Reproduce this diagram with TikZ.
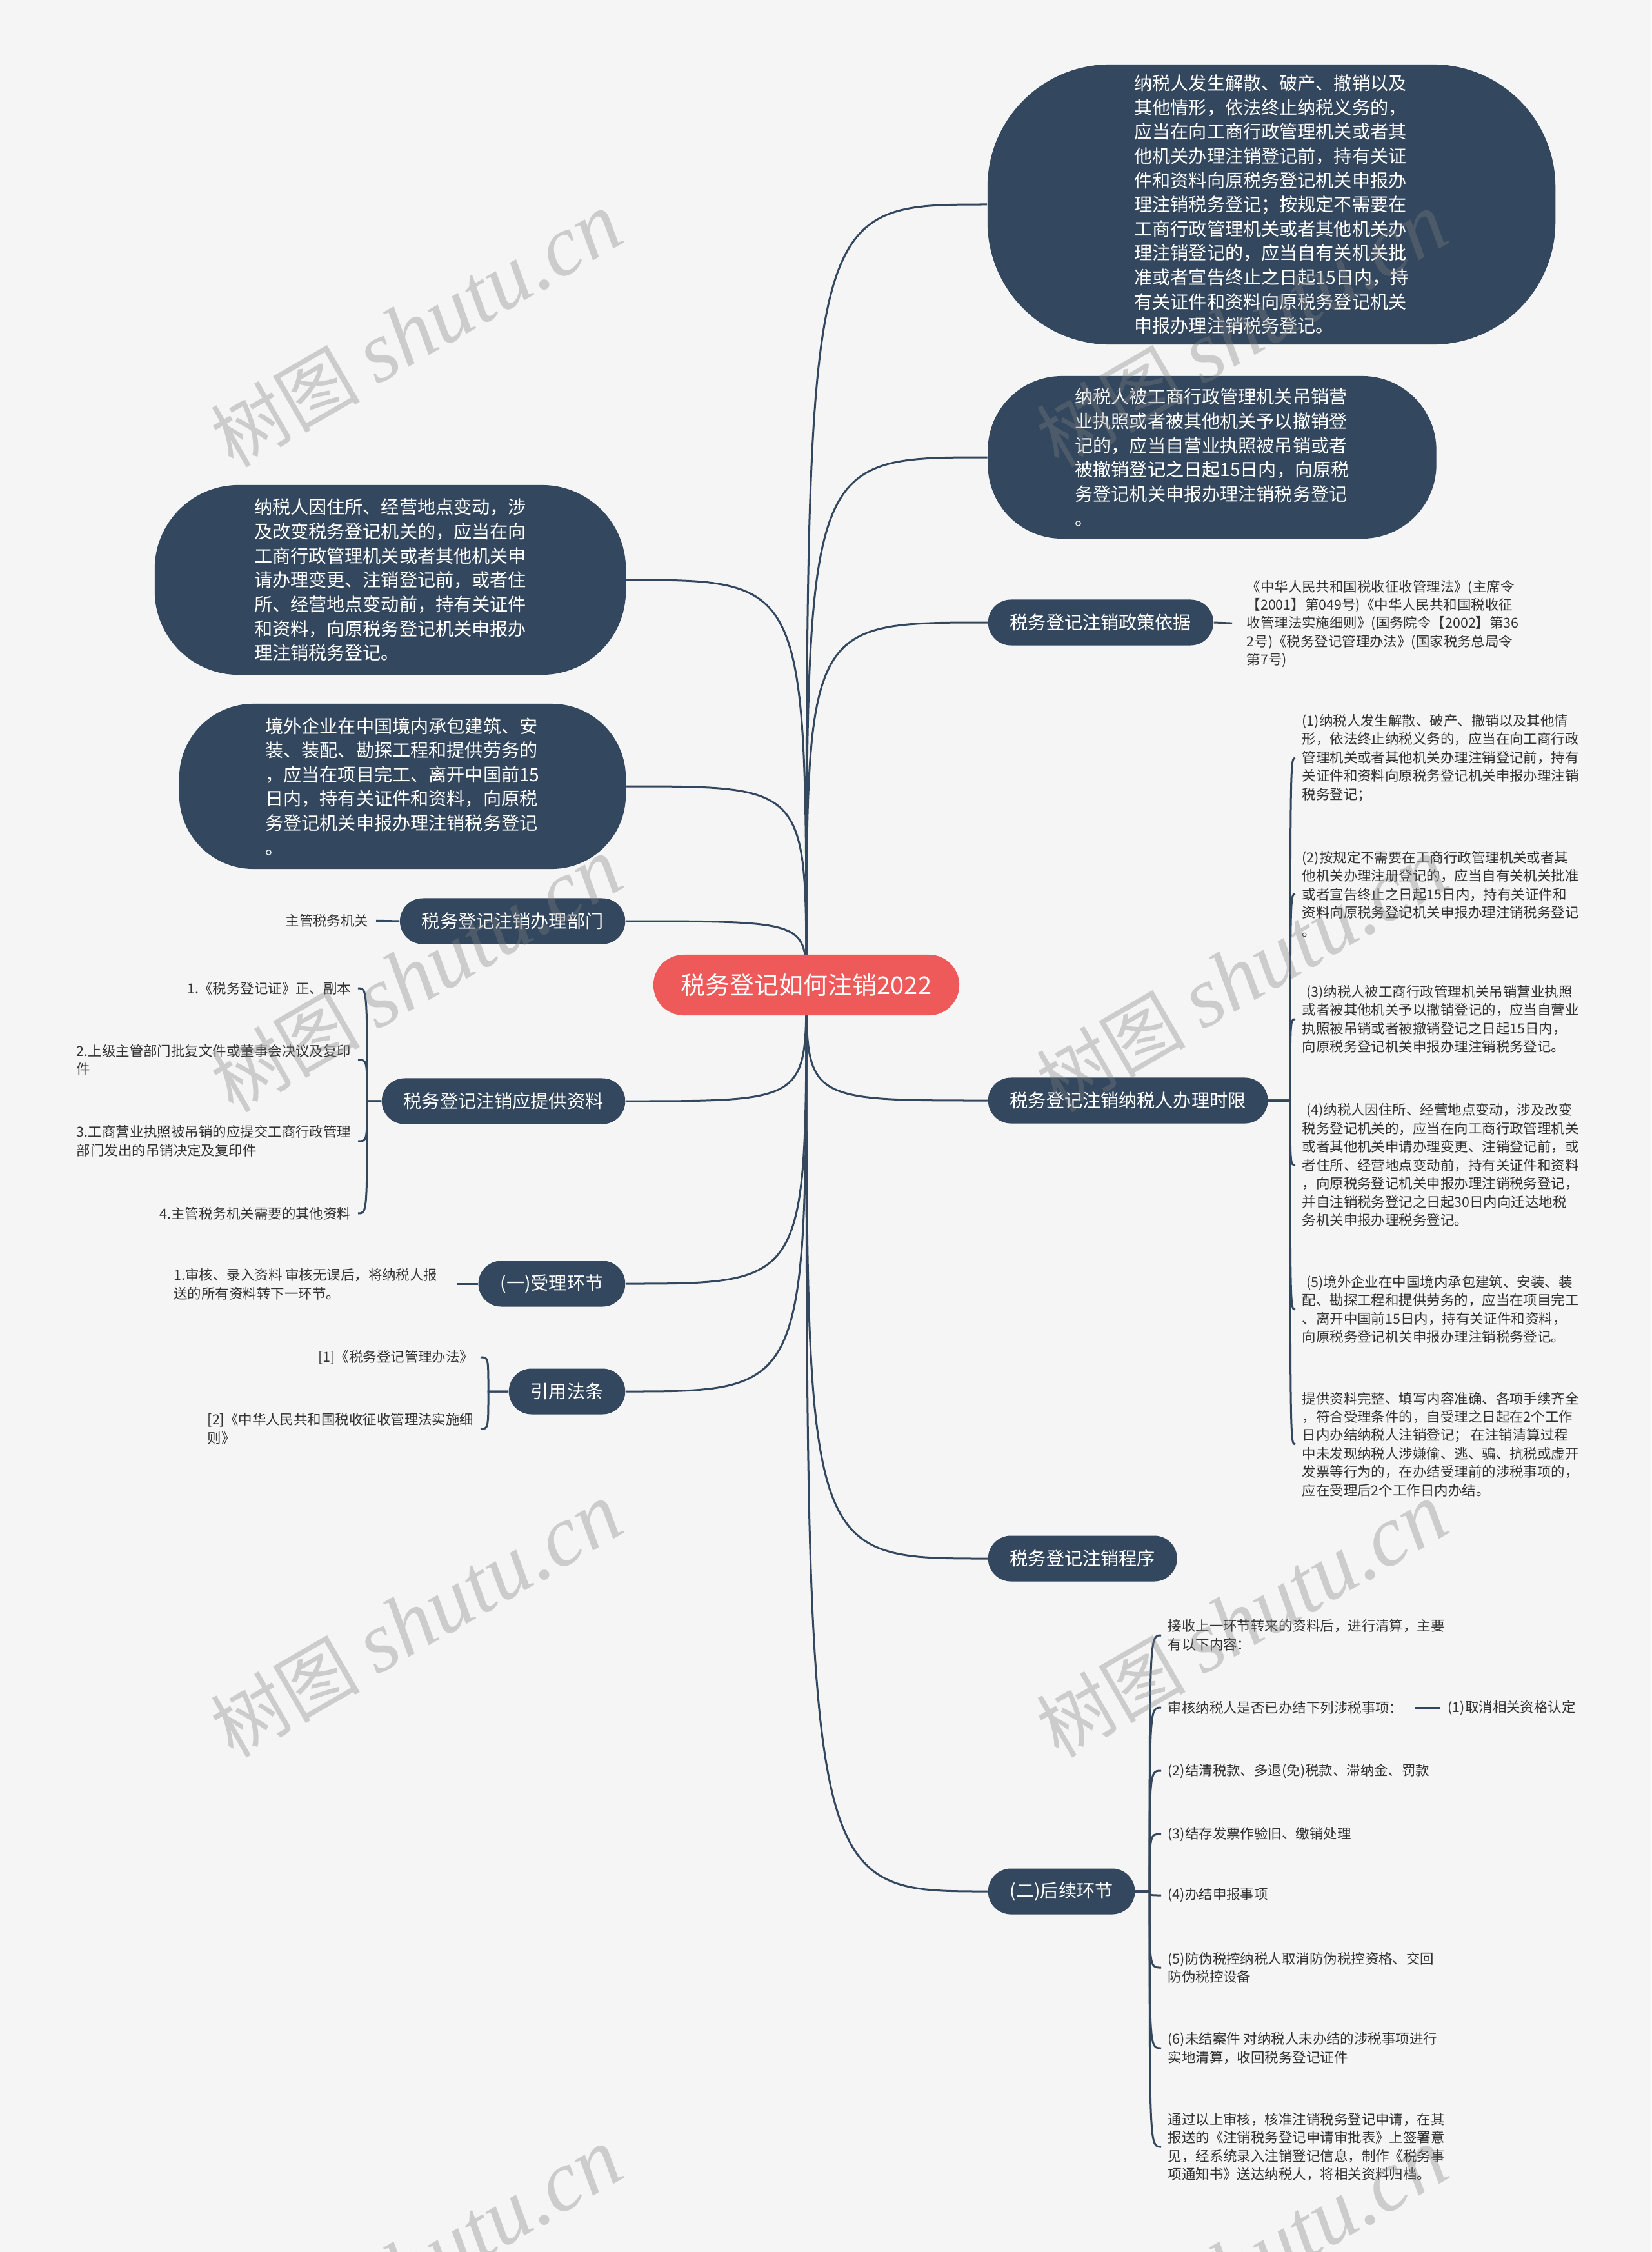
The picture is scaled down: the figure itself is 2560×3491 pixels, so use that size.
\documentclass[tikz,border=0pt]{standalone}
\usepackage{fontspec}
\setmainfont{Noto Sans CJK SC}
\newfontfamily\wmfont[Scale=1.15]{Liberation Serif Italic}
\usetikzlibrary{calc,backgrounds}
\definecolor{navy}{HTML}{33475E}
\definecolor{coral}{HTML}{EE5A5A}
\definecolor{paper}{HTML}{F5F5F5}
\definecolor{ink}{HTML}{333333}
\newcommand\fsmall{\fontsize{6.1pt}{8.1pt}\selectfont}
\newcommand\fmid{\fontsize{8pt}{10.7pt}\selectfont}
\newcommand\fbig{\fontsize{10.8pt}{13pt}\selectfont}

\begin{document}
\begin{tikzpicture}[
    x=0.01cm, y=-0.01cm,
    root/.style={fill=coral, text=white, font=\fbig, rounded corners=0.47cm, minimum width=4.74cm, minimum height=0.94cm},
    topic/.style={fill=navy, text=white, font=\fmid, rounded corners=0.355cm, minimum height=0.71cm, inner xsep=0.34cm, inner ysep=0pt},
    bigbox/.style={fill=navy, text=white, font=\fmid, align=left, inner sep=0pt},
    leaf/.style={text=ink, font=\fsmall, align=left, inner sep=0pt},
    link/.style={draw=navy, line width=0.03cm},
    wmark/.style={text=gray, opacity=0.35, rotate=30, font=\fontsize{33pt}{33pt}\selectfont}
]
\useasboundingbox (0,0) rectangle (2560,3491);

\node[root] (root) at (1250,1527) {税务登记如何注销2022};

\node[bigbox, minimum width=8.8cm, minimum height=4.34cm, rounded corners=1.9cm] (dissolve) at (1971,317)
    {纳税人发生解散、破产、撤销以及\\其他情形，依法终止纳税义务的，\\应当在向工商行政管理机关或者其\\他机关办理注销登记前，持有关证\\件和资料向原税务登记机关申报办\\理注销税务登记；按规定不需要在\\工商行政管理机关或者其他机关办\\理注销登记的，应当自有关机关批\\准或者宣告终止之日起15日内，持\\有关证件和资料向原税务登记机关\\申报办理注销税务登记。};
\node[bigbox, minimum width=6.95cm, minimum height=2.52cm, rounded corners=1.15cm] (revoke) at (1879,709)
    {纳税人被工商行政管理机关吊销营\\业执照或者被其他机关予以撤销登\\记的，应当自营业执照被吊销或者\\被撤销登记之日起15日内，向原税\\务登记机关申报办理注销税务登记\\。};
\node[topic, anchor=west] (basis) at (1531,965) {税务登记注销政策依据};
\node[topic, anchor=west] (limit) at (1531,1706) {税务登记注销纳税人办理时限};
\node[topic, anchor=west] (proc) at (1531,2416) {税务登记注销程序};
\node[topic, anchor=west] (follow) at (1531,2932) {(二)后续环节};

\node[bigbox, minimum width=7.3cm, minimum height=2.94cm, rounded corners=1.3cm] (move) at (605,899)
    {纳税人因住所、经营地点变动，涉\\及改变税务登记机关的，应当在向\\工商行政管理机关或者其他机关申\\请办理变更、注销登记前，或者住\\所、经营地点变动前，持有关证件\\和资料，向原税务登记机关申报办\\理注销税务登记。};
\node[bigbox, minimum width=6.92cm, minimum height=2.56cm, rounded corners=1.15cm] (abroad) at (624,1219)
    {境外企业在中国境内承包建筑、安\\装、装配、勘探工程和提供劳务的\\，应当在项目完工、离开中国前15\\日内，持有关证件和资料，向原税\\务登记机关申报办理注销税务登记\\。};
\node[topic, anchor=east] (dept) at (970,1428) {税务登记注销办理部门};
\node[topic, anchor=east] (docs) at (970,1707) {税务登记注销应提供资料};
\node[topic, anchor=east] (accept) at (970,1990) {(一)受理环节};
\node[topic, anchor=east] (law) at (970,2157) {引用法条};

\node[leaf, anchor=west] (basis1) at (1932,967)
    {《中华人民共和国税收征收管理法》(主席令\\【2001】第049号)《中华人民共和国税收征\\收管理法实施细则》(国务院令【2002】第36\\2号)《税务登记管理办法》(国家税务总局令\\第7号)};

\node[leaf, anchor=west] (limit1) at (2018,1175)
    {(1)纳税人发生解散、破产、撤销以及其他情\\形，依法终止纳税义务的，应当在向工商行政\\管理机关或者其他机关办理注销登记前，持有\\关证件和资料向原税务登记机关申报办理注销\\税务登记；};
\node[leaf, anchor=west] (limit2) at (2018,1386)
    {(2)按规定不需要在工商行政管理机关或者其\\他机关办理注册登记的，应当自有关机关批准\\或者宣告终止之日起15日内，持有关证件和\\资料向原税务登记机关申报办理注销税务登记\\。};
\node[leaf, anchor=west] (limit3) at (2018,1580)
    {\hspace{0.3em}(3)纳税人被工商行政管理机关吊销营业执照\\或者被其他机关予以撤销登记的，应当自营业\\执照被吊销或者被撤销登记之日起15日内，\\向原税务登记机关申报办理注销税务登记。};
\node[leaf, anchor=west] (limit4) at (2018,1806)
    {\hspace{0.3em}(4)纳税人因住所、经营地点变动，涉及改变\\税务登记机关的，应当在向工商行政管理机关\\或者其他机关申请办理变更、注销登记前，或\\者住所、经营地点变动前，持有关证件和资料\\，向原税务登记机关申报办理注销税务登记，\\并自注销税务登记之日起30日内向迁达地税\\务机关申报办理税务登记。};
\node[leaf, anchor=west] (limit5) at (2018,2030)
    {\hspace{0.3em}(5)境外企业在中国境内承包建筑、安装、装\\配、勘探工程和提供劳务的，应当在项目完工\\、离开中国前15日内，持有关证件和资料，\\向原税务登记机关申报办理注销税务登记。};
\node[leaf, anchor=west] (limit6) at (2018,2239)
    {提供资料完整、填写内容准确、各项手续齐全\\，符合受理条件的，自受理之日起在2个工作\\日内办结纳税人注销登记；\ 在注销清算过程\\中未发现纳税人涉嫌偷、逃、骗、抗税或虚开\\发票等行为的，在办结受理前的涉税事项的，\\应在受理后2个工作日内办结。};

\node[leaf, anchor=west] (follow1) at (1810,2535) {接收上一环节转来的资料后，进行清算，主要\\有以下内容：};
\node[leaf, anchor=west] (follow2) at (1810,2647) {审核纳税人是否已办结下列涉税事项：};
\node[leaf, anchor=west] (follow2a) at (2244,2647) {(1)取消相关资格认定};
\node[leaf, anchor=west] (follow3) at (1810,2745) {(2)结清税款、多退(免)税款、滞纳金、罚款};
\node[leaf, anchor=west] (follow4) at (1810,2843) {(3)结存发票作验旧、缴销处理};
\node[leaf, anchor=west] (follow5) at (1810,2938) {(4)办结申报事项};
\node[leaf, anchor=west] (follow6) at (1810,3050) {(5)防伪税控纳税人取消防伪税控资格、交回\\防伪税控设备};
\node[leaf, anchor=west] (follow7) at (1810,3175) {(6)未结案件 对纳税人未办结的涉税事项进行\\实地清算，收回税务登记证件};
\node[leaf, anchor=west] (follow8) at (1810,3328)
    {通过以上审核，核准注销税务登记申请，在其\\报送的《注销税务登记申请审批表》上签署意\\见，经系统录入注销登记信息，制作《税务事\\项通知书》送达纳税人，将相关资料归档。};

\node[leaf, anchor=east] (dept1) at (572,1427) {主管税务机关};
\node[leaf, anchor=east] (docs1) at (545,1532) {1.《税务登记证》正、副本};
\node[leaf, anchor=east] (docs2) at (545,1643) {2.上级主管部门批复文件或董事会决议及复印\\件};
\node[leaf, anchor=east] (docs3) at (545,1769) {3.工商营业执照被吊销的应提交工商行政管理\\部门发出的吊销决定及复印件};
\node[leaf, anchor=east] (docs4) at (545,1881) {4.主管税务机关需要的其他资料};
\node[leaf, anchor=east] (accept1) at (679,1991) {1.审核、录入资料 审核无误后，将纳税人报\\送的所有资料转下一环节。};
\node[leaf, anchor=east] (law1) at (735,2104) {[1]《税务登记管理办法》};
\node[leaf, anchor=east] (law2) at (735,2215) {[2]《中华人民共和国税收征收管理法实施细\\则》};

\begin{scope}[on background layer]
\fill[paper] (0,0) rectangle (2560,3491);
\foreach \n in {dissolve,revoke,basis,limit,proc,follow}
    \draw[link] (root.center) .. controls (root.center |- \n.west) .. (\n.west);
\foreach \n in {move,abroad,dept,docs,accept,law}
    \draw[link] (root.center) .. controls (root.center |- \n.east) .. (\n.east);
\end{scope}

\foreach \n in {limit1,limit2,limit3,limit4,limit5,limit6}
    \draw[link] (limit.east) -- ++(34,0) .. controls ($(limit.east |- \n.west)+(34,0)$) .. ($(\n.west)+(-10,0)$);
\foreach \n in {follow1,follow2,follow3,follow4,follow5,follow6,follow7,follow8}
    \draw[link] (follow.east) -- ++(22,0) .. controls ($(follow.east |- \n.west)+(22,0)$) .. ($(\n.west)+(-10,0)$);
\foreach \n in {docs1,docs2,docs3,docs4}
    \draw[link] (docs.west) -- ++(-22,0) .. controls ($(docs.west |- \n.east)+(-22,0)$) .. ($(\n.east)+(10,0)$);
\foreach \n in {law1,law2}
    \draw[link] (law.west) -- ++(-31,0) .. controls ($(law.west |- \n.east)+(-31,0)$) .. ($(\n.east)+(10,0)$);
\draw[link, shorten >=0.22cm] (basis.east) -- (basis1.west);
\draw[link, shorten <=0.11cm] (dept1.east) -- (dept.west);
\draw[link, shorten <=0.29cm] (accept1.east |- accept.west) -- (accept.west);
\draw[link, shorten <=0.17cm, shorten >=0.11cm] (follow2.east) -- (follow2a.west);

\foreach \wx/\wy [count=\i] in {645/512, 1925/512, 645/1512, 1925/1512, 645/2512, 1925/2512, 645/3512, 1925/3512}
    \node[wmark] (wm\i) at (\wx,\wy) {树图 {\wmfont shutu.cn}};
\end{tikzpicture}
\end{document}
